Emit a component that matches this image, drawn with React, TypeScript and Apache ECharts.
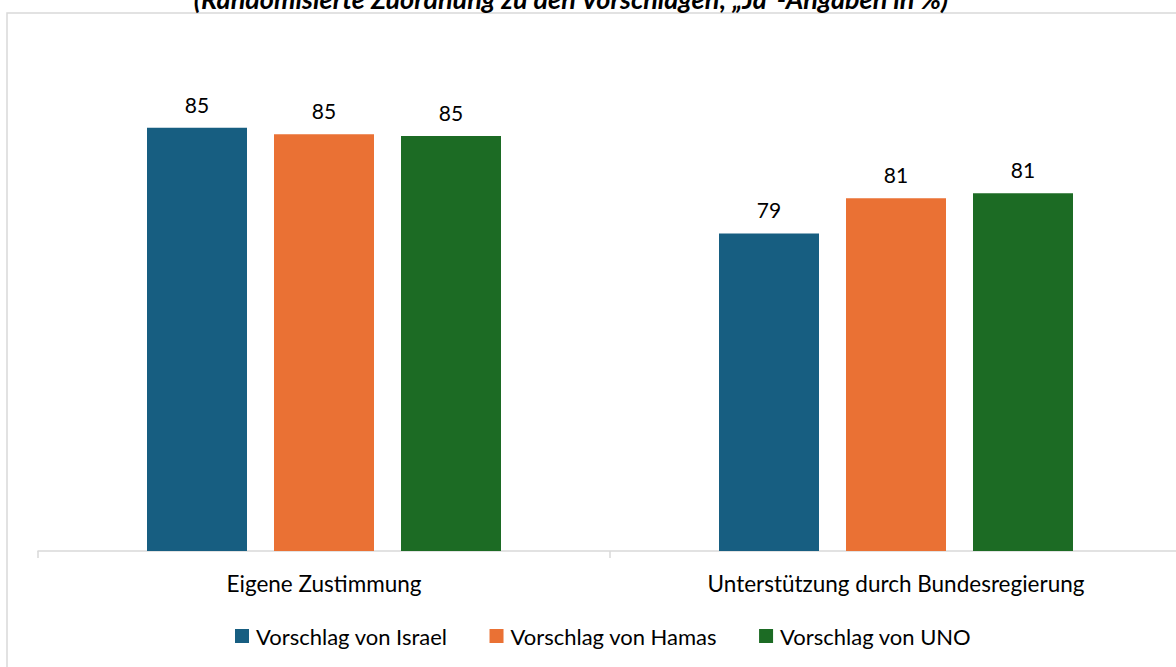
import React, { useEffect, useRef } from "react";
import * as echarts from "echarts";

const categories = ["Eigene Zustimmung", "Unterstützung durch Bundesregierung"];
const seriesNames = ["Vorschlag von Israel", "Vorschlag von Hamas", "Vorschlag von UNO"];
const israel = [85.2, 78.9];
const hamas = [84.8, 81.0];
const uno = [84.7, 81.3];
const colors = ["#175E81", "#EA7134", "#1C6B24"];
const titleText = "(Randomisierte Zuordnung zu den Vorschlägen; „Ja“-Angaben in %)";

const FONT = "Lato";

export default function App() {
  const ref = useRef<HTMLDivElement>(null);
  useEffect(() => {
    if (!ref.current) return;
    const chart = echarts.init(ref.current, undefined, { renderer: "svg" });
    const values = [israel, hamas, uno];
    chart.setOption({
      animation: false,
      backgroundColor: "#ffffff",
      graphic: [
        {
          type: "rect",
          shape: { x: 7, y: 13, width: 1250, height: 750 },
          style: { fill: "none", stroke: "#d9d9d9", lineWidth: 1.5 },
          silent: true,
        },
        {
          type: "text",
          x: 571,
          y: 12,
          style: {
            text: titleText,
            fontFamily: FONT,
            fontStyle: "italic",
            fontWeight: "bold",
            fontSize: 27,
            fill: "#000",
            align: "center",
            verticalAlign: "bottom",
          },
        },
      ],
      legend: {
        bottom: 20,
        left: 235,
        padding: 0,
        icon: "rect",
        itemWidth: 14,
        itemHeight: 14,
        itemGap: 42,
        itemStyle: { borderWidth: 0 },
        textStyle: { fontFamily: FONT, fontSize: 22, color: "#000", padding: [0, 0, 0, 2] },
        data: seriesNames,
      },
      grid: { left: 38, width: 1144, top: 47, height: 504, containLabel: false, outerBoundsMode: "none" },
      xAxis: {
        type: "category",
        data: categories,
        axisLine: { lineStyle: { color: "#d9d9d9", width: 1.5 } },
        axisTick: { show: true, length: 7, lineStyle: { color: "#d9d9d9", width: 1.5 } },
        axisLabel: { fontFamily: FONT, fontSize: 22.5, color: "#000", margin: 21 },
      },
      yAxis: {
        type: "value",
        min: 60,
        max: 90,
        show: false,
        splitLine: { show: false },
      },
      series: seriesNames.map((name, i) => ({
        name,
        type: "bar",
        data: values[i],
        barWidth: 100,
        barGap: "27%",
        itemStyle: { color: colors[i] },
        label: {
          show: true,
          position: "top",
          distance: 13,
          fontFamily: FONT,
          fontSize: 21,
          color: "#000",
          formatter: (p: any) => Math.round(p.value).toString(),
        },
      })),
    });
    return () => chart.dispose();
  }, []);
  return (
    <div
      ref={ref}
      style={{ position: "fixed", left: 0, top: 0, width: 1176, height: 667 }}
    />
  );
}
